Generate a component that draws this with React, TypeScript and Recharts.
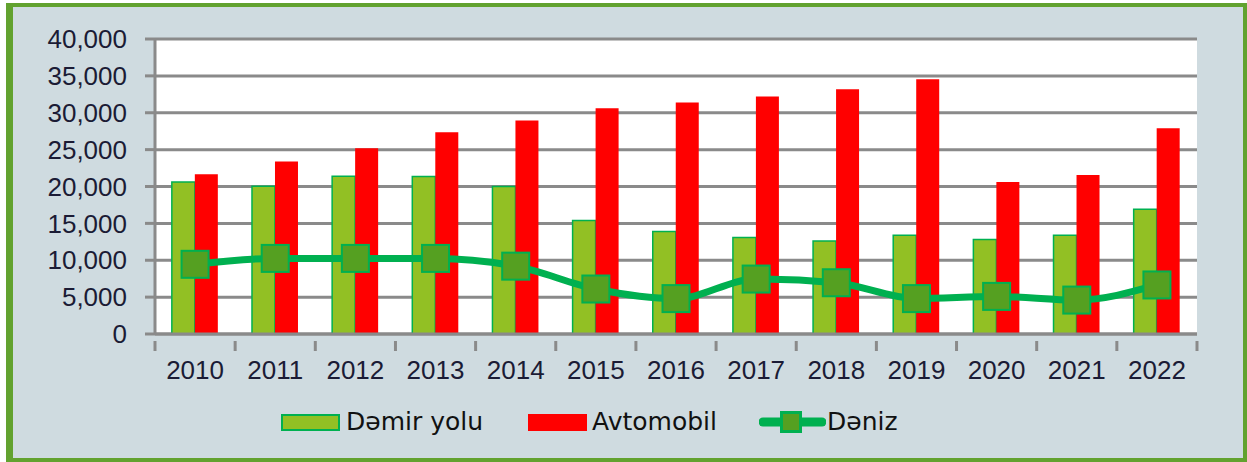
import React from "react";
import {
  ComposedChart,
  Bar,
  Line,
  XAxis,
  YAxis,
  CartesianGrid,
  Legend,
} from "recharts";

const years = ["2010", "2011", "2012", "2013", "2014", "2015", "2016", "2017", "2018", "2019", "2020", "2021", "2022"];
const demirYolu = [20600, 20050, 21400, 21350, 20000, 15400, 13900, 13100, 12600, 13400, 12800, 13400, 16900];
const avtomobil = [21650, 23400, 25200, 27350, 28950, 30600, 31400, 32200, 33200, 34550, 20600, 21550, 27900];
const deniz = [9450, 10250, 10250, 10250, 9200, 6100, 4800, 7450, 6950, 4800, 5100, 4600, 6650];
const yTicks = [0, 5000, 10000, 15000, 20000, 25000, 30000, 35000, 40000];

const data = years.map((year, i) => ({
  year,
  demir: demirYolu[i],
  avto: avtomobil[i],
  deniz: deniz[i],
}));

const GRID = "#8a8a8a";
const TEXT = "#1b1b35";
const LIME = "#92c024";
const GREEN = "#00b050";
const DARK_GREEN = "#55a021";

const XTick = (props: any) => {
  const { x, y, payload, index } = props;
  const half = payload && payload.offset ? payload.offset : 40.07;
  const axisY = y - 1;
  return (
    <g>
      <line x1={x - half} x2={x - half} y1={axisY} y2={axisY + 10} stroke={GRID} strokeWidth={3} />
      {index === years.length - 1 && (
        <line x1={x + half} x2={x + half} y1={axisY} y2={axisY + 10} stroke={GRID} strokeWidth={3} />
      )}
      <text
        x={x}
        y={axisY + 20}
        dy="0.71em"
        textAnchor="middle"
        fill={TEXT}
        fontSize={26}
        fontFamily="'Liberation Sans', Arial, sans-serif"
      >
        {payload.value}
      </text>
    </g>
  );
};

const SquareDot = (props: any) => {
  const { cx, cy } = props;
  if (cx == null || cy == null) return null;
  return <rect x={cx - 13.5} y={cy - 13.5} width={27} height={27} fill={DARK_GREEN} stroke={GREEN} strokeWidth={2} />;
};

const legendText: React.CSSProperties = {
  fontFamily: "'DejaVu Sans', sans-serif",
  fontSize: 25,
  color: "#111",
  lineHeight: "32px",
};

const LegendContent = () => (
  <div style={{ display: "flex", alignItems: "center", height: 32 }}>
    <div style={{ width: 59, height: 17, background: LIME, border: `2px solid ${GREEN}`, boxSizing: "border-box" }} />
    <span style={{ ...legendText, marginLeft: 6 }}>Dəmir yolu</span>
    <div style={{ width: 59, height: 17, background: "#ff0000", marginLeft: 45 }} />
    <span style={{ ...legendText, marginLeft: 5 }}>Avtomobil</span>
    <svg width={67} height={22} style={{ marginLeft: 42 }}>
      <line x1={4} x2={63} y1={11} y2={11} stroke={GREEN} strokeWidth={9} strokeLinecap="round" />
      <rect x={22.5} y={1.5} width={19} height={19} fill={DARK_GREEN} stroke={GREEN} strokeWidth={3} />
    </svg>
    <span style={{ ...legendText, marginLeft: 1 }}>Dəniz</span>
  </div>
);

export default function App() {
  return (
    <div style={{ position: "absolute", left: 0, top: 0, width: 1247, height: 462, background: "#fff" }}>
      <div
        style={{
          position: "absolute",
          left: 6,
          top: 3,
          width: 1241,
          height: 459,
          boxSizing: "border-box",
          background: "#cfdbe0",
          borderStyle: "solid",
          borderColor: "#62a22f",
          borderWidth: "4px 4px 4px 7px",
        }}
      />
      <div style={{ position: "absolute", left: 0, top: 0 }}>
        <ComposedChart
          width={1247}
          height={462}
          data={data}
          margin={{ top: 39, right: 50, left: 0, bottom: 46 }}
          barCategoryGap="21%"
          barGap={0}
        >
          <CartesianGrid vertical={false} stroke={GRID} strokeWidth={3} fill="#ffffff" fillOpacity={1} />
          <XAxis
            dataKey="year"
            height={50}
            axisLine={{ stroke: GRID, strokeWidth: 3 }}
            tickLine={false}
            tick={<XTick />}
            interval={0}
          />
          <YAxis
            width={155}
            domain={[0, 40000]}
            ticks={yTicks}
            interval={0}
            tickFormatter={(v: number) => v.toLocaleString("en-US")}
            axisLine={{ stroke: GRID, strokeWidth: 3 }}
            tickLine={{ stroke: GRID, strokeWidth: 3 }}
            tickSize={10}
            tickMargin={18}
            tick={{ fill: TEXT, fontSize: 26, fontFamily: "'Liberation Sans', Arial, sans-serif" }}
          />
          <Legend
            content={<LegendContent />}
            wrapperStyle={{ top: 406, left: 281, width: 700, height: 32 }}
          />
          <Bar dataKey="demir" name="Dəmir yolu" fill={LIME} stroke={GREEN} strokeWidth={1.5} isAnimationActive={false} />
          <Bar dataKey="avto" name="Avtomobil" fill="#ff0000" isAnimationActive={false} />
          <Line
            dataKey="deniz"
            name="Dəniz"
            type="monotone"
            stroke={GREEN}
            strokeWidth={7}
            dot={<SquareDot />}
            activeDot={false}
            isAnimationActive={false}
          />
        </ComposedChart>
      </div>
    </div>
  );
}
